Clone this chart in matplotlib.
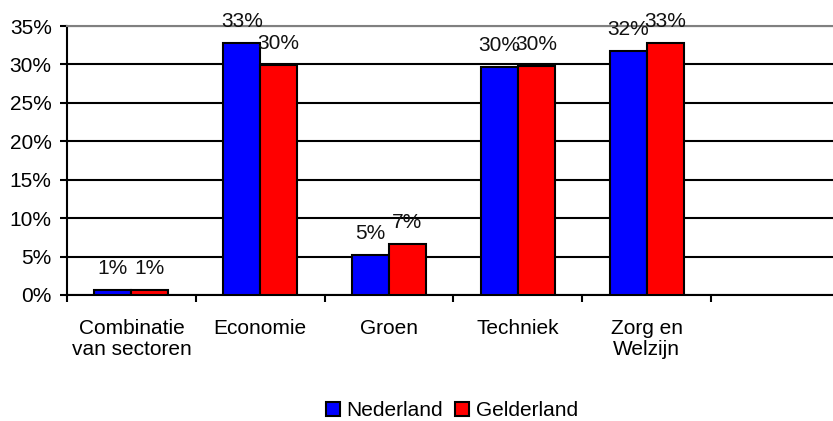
import numpy as np
import matplotlib
matplotlib.use("Agg")
import matplotlib.pyplot as plt
from matplotlib.patches import Patch

plt.rcParams['font.family'] = ['Liberation Sans', 'DejaVu Sans']

# data (percentages)
categories = ['Combinatie\nvan sectoren', 'Economie', 'Groen', 'Techniek', 'Zorg en\nWelzijn', '']
nederland = [0.6, 32.8, 5.2, 29.7, 31.7]
gelderland = [0.7, 29.9, 6.6, 29.8, 32.8]
series_names = ['Nederland', 'Gelderland']
yticks = [0, 5, 10, 15, 20, 25, 30, 35]

fig = plt.figure(figsize=(8.33, 4.21), dpi=100)
ax = fig.add_axes([67 / 833, 126 / 421, (6 * 128.8) / 833, 269 / 421])

x = np.arange(len(nederland))
w = 0.287
fs = 15

b1 = ax.bar(x - w / 2, nederland, w, color='#0000ff', edgecolor='black', linewidth=1.5, zorder=3)
b2 = ax.bar(x + w / 2, gelderland, w, color='#ff0000', edgecolor='black', linewidth=1.5, zorder=3)

# value labels above each bar
for bars, vals in [(b1, nederland), (b2, gelderland)]:
    for b, v in zip(bars, vals):
        ax.annotate(f'{v:.0f}%', (b.get_x() + b.get_width() / 2, v),
                    xytext=(0, 11.5), textcoords='offset points',
                    ha='center', va='baseline', fontsize=fs, color='#111111', zorder=4)

ax.set_xlim(-0.5, 5.5)
ax.set_ylim(0, 35)
ax.set_yticks(yticks)
ax.set_yticklabels([f'{t}%' for t in yticks], fontsize=fs)
ax.yaxis.grid(True, color='black', linewidth=1.5, zorder=0)
ax.set_axisbelow(True)

# category labels at slot centres, tick marks at slot boundaries
ax.set_xticks(np.arange(len(categories)))
ax.set_xticklabels(categories, fontsize=fs, linespacing=1.15)
ax.set_xticks(np.arange(len(categories) + 1) - 0.5, minor=True)
ax.tick_params(axis='x', which='major', length=0, pad=17)
ax.tick_params(axis='x', which='minor', length=5, width=1.5, direction='out')
ax.tick_params(axis='y', length=5, width=1.5, pad=6)

ax.spines['right'].set_visible(False)
ax.spines['top'].set_color('#808080')
ax.spines['top'].set_linewidth(1.5)
ax.spines['left'].set_linewidth(1.5)
ax.spines['bottom'].set_linewidth(1.5)

handles = [Patch(facecolor='#0000ff', edgecolor='black', linewidth=1.5),
           Patch(facecolor='#ff0000', edgecolor='black', linewidth=1.5)]
fig.legend(handles, series_names, loc='center', bbox_to_anchor=(0.5426, 0.024),
           ncol=2, frameon=False, fontsize=fs, handlelength=0.67, handleheight=0.67,
           handletextpad=0.3, columnspacing=0.6, borderpad=0)

fig.savefig('out.png', dpi=100)
